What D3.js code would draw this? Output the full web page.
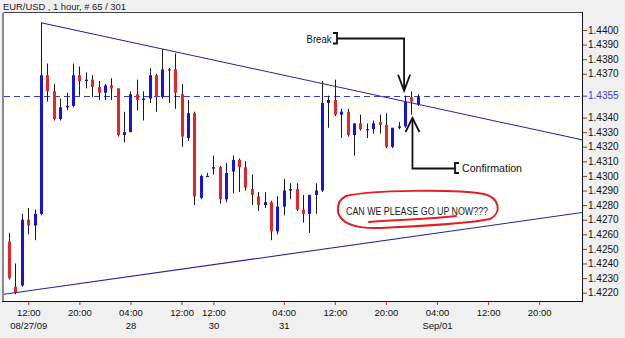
<!DOCTYPE html>
<html><head><meta charset="utf-8">
<script src="https://cdn.jsdelivr.net/npm/d3@7"></script>
<style>body{margin:0;background:#f0f0f0}svg{display:block}</style>
</head><body><svg id="c" width="625" height="338"></svg>
<script>
// ---- data (EUR/USD, 1 hour) ----
const open  = [1.4255,1.4224,1.4225,1.4270,1.4266,1.4274,1.4369,1.4358,1.4339,1.4347,1.4348,1.4369,1.4365,1.4366,1.4361,1.4357,1.4362,1.4360,1.4328,1.4330,1.4356,1.4352,1.4353,1.4369,1.4354,1.4373,1.4373,1.4356,1.4326,1.4343,1.4285,1.4300,1.4305,1.4306,1.4284,1.4303,1.4311,1.4306,1.4291,1.4286,1.4280,1.4282,1.4262,1.4279,1.4290,1.4291,1.4277,1.4274,1.4287,1.4290,1.4350,1.4352,1.4342,1.4344,1.4328,1.4336,1.4332,1.4332,1.4337,1.4335,1.4320,1.4333,1.4334,1.4354,1.4349];
const high  = [1.4261,1.4240,1.4274,1.4278,1.4277,1.4405,1.4377,1.4363,1.4353,1.4357,1.4377,1.4375,1.4371,1.4369,1.4365,1.4363,1.4367,1.4360,1.4344,1.4358,1.4366,1.4358,1.4374,1.4370,1.4387,1.4374,1.4384,1.4363,1.4352,1.4344,1.4301,1.4302,1.4314,1.4307,1.4309,1.4314,1.4312,1.4310,1.4301,1.4289,1.4289,1.4283,1.4286,1.4298,1.4295,1.4295,1.4287,1.4287,1.4295,1.4365,1.4355,1.4366,1.4346,1.4346,1.4336,1.4342,1.4336,1.4338,1.4342,1.4343,1.4333,1.4337,1.4355,1.4358,1.4356];
const low   = [1.4229,1.4219,1.4224,1.4260,1.4256,1.4273,1.4351,1.4338,1.4338,1.4345,1.4347,1.4355,1.4360,1.4354,1.4352,1.4352,1.4352,1.4327,1.4323,1.4330,1.4345,1.4338,1.4350,1.4344,1.4353,1.4350,1.4346,1.4320,1.4324,1.4280,1.4284,1.4300,1.4301,1.4281,1.4282,1.4288,1.4289,1.4290,1.4280,1.4276,1.4278,1.4256,1.4260,1.4273,1.4284,1.4276,1.4268,1.4261,1.4274,1.4289,1.4333,1.4341,1.4326,1.4327,1.4314,1.4331,1.4326,1.4329,1.4329,1.4319,1.4319,1.4332,1.4333,1.4342,1.4348];
const close = [1.4230,1.4220,1.4270,1.4266,1.4274,1.4369,1.4358,1.4339,1.4347,1.4348,1.4369,1.4365,1.4366,1.4361,1.4357,1.4362,1.4360,1.4328,1.4330,1.4356,1.4352,1.4353,1.4369,1.4354,1.4373,1.4373,1.4357,1.4327,1.4343,1.4286,1.4300,1.4300,1.4306,1.4284,1.4302,1.4311,1.4306,1.4292,1.4287,1.4280,1.4282,1.4262,1.4279,1.4290,1.4291,1.4277,1.4274,1.4287,1.4290,1.4350,1.4352,1.4342,1.4344,1.4328,1.4336,1.4332,1.4332,1.4336,1.4335,1.4320,1.4333,1.4334,1.4351,1.4351,1.4354];

const yTicks = [1.4400,1.4390,1.4380,1.4370,1.4355,1.4340,1.4330,1.4320,1.4310,1.4300,1.4290,1.4280,1.4270,1.4260,1.4250,1.4240,1.4230,1.4220];
const hLevel = 1.4355;
const xTickIdx  = [3,11,19,27,32,43,51,59,67,75,83];
const xTickTime = ["12:00","20:00","04:00","12:00","12:00","04:00","12:00","20:00","04:00","12:00","20:00"];
const xTickDate = ["08/27/09","","28","","30","31","","","Sep/01","",""];
// trendline anchors [bar index, price]
const upperTrend = [[5,1.4405],[24,1.4387]];
const lowerTrend = [[1,1.4220],[64,1.4259]];
const title = "EUR/USD , 1 hour, # 65 / 301";

// ---- layout ----
const W=625,H=338;
const P={l:4,r:582,t:13,b:301};
const x=d3.scaleLinear().domain([-0.8,89.7]).range([P.l,P.r]);
const y=d3.scaleLinear().domain([1.42143,1.441165]).range([P.b,P.t]);
const svg=d3.select("#c");
const FONT="'Liberation Sans', Arial, sans-serif";

svg.append("rect").attr("width",W).attr("height",H).attr("fill","#f0f0f0");
svg.append("rect").attr("x",P.l).attr("y",P.t).attr("width",P.r-P.l).attr("height",P.b-P.t).attr("fill","#fff");
svg.append("defs").append("clipPath").attr("id","clip").append("rect")
  .attr("x",P.l).attr("y",P.t).attr("width",P.r-P.l).attr("height",P.b-P.t);
const g=svg.append("g").attr("clip-path","url(#clip)");

// horizontal dashed level
g.append("line").attr("x1",P.l).attr("x2",P.r)
  .attr("y1",Math.round(y(hLevel))+0.5).attr("y2",Math.round(y(hLevel))+0.5)
  .attr("stroke","#3c3cc8").attr("stroke-width",1).attr("stroke-dasharray","6,4");

// candles
const data=open.map((o,i)=>({i,o,h:high[i],l:low[i],c:close[i]}));
const cx=d=>Math.round(x(d.i));
g.selectAll(".wick").data(data).join("line").attr("class","wick")
  .attr("x1",d=>cx(d)+0.5).attr("x2",d=>cx(d)+0.5)
  .attr("y1",d=>y(d.h)).attr("y2",d=>y(d.l))
  .attr("stroke","#1a1a1a").attr("stroke-width",1);
g.selectAll(".body").data(data).join("rect").attr("class","body")
  .attr("x",d=>cx(d)-1).attr("width",3)
  .attr("y",d=>y(Math.max(d.o,d.c)))
  .attr("height",d=>Math.max(1,Math.abs(y(d.o)-y(d.c))))
  .attr("fill",d=>d.c>d.o?"#1414dc":(d.c<d.o?"#e62626":"#1a1a1a"));

// trendlines
function ext(a,b,i){return a[1]+(b[1]-a[1])*(i-a[0])/(b[0]-a[0]);}
const xEnd=x.domain()[1], xStart=x.domain()[0];
g.append("line").attr("x1",x(upperTrend[0][0])).attr("y1",y(upperTrend[0][1]))
  .attr("x2",x(xEnd)).attr("y2",y(ext(upperTrend[0],upperTrend[1],xEnd)))
  .attr("stroke","#2424a0").attr("stroke-width",1.1);
g.append("line").attr("x1",x(xStart)).attr("y1",y(ext(lowerTrend[0],lowerTrend[1],xStart)))
  .attr("x2",x(xEnd)).attr("y2",y(ext(lowerTrend[0],lowerTrend[1],xEnd)))
  .attr("stroke","#2424a0").attr("stroke-width",1.1);

// frame
svg.append("line").attr("x1",P.l-0.5).attr("x2",P.r).attr("y1",P.t-0.5).attr("y2",P.t-0.5).attr("stroke","#444");
svg.append("line").attr("x1",P.l-1).attr("x2",P.l-1).attr("y1",P.t).attr("y2",P.b+1).attr("stroke","#8a8a8a").attr("stroke-width",2);
svg.append("line").attr("x1",P.r+0.5).attr("x2",P.r+0.5).attr("y1",P.t-1).attr("y2",P.b+1).attr("stroke","#111");
svg.append("line").attr("x1",P.l-2).attr("x2",P.r+1).attr("y1",P.b+0.5).attr("y2",P.b+0.5).attr("stroke","#111");

// y axis
const ya=svg.append("g").attr("transform",`translate(${P.r+1},0)`)
  .call(d3.axisRight(y).tickValues(yTicks).tickFormat(d3.format(".4f")).tickSize(4).tickPadding(1));
ya.select(".domain").remove();
ya.selectAll(".tick line").attr("stroke",d=>d===hLevel?"#3c3cc8":"#a83030");
ya.selectAll(".tick text").attr("font-family",FONT).attr("font-size","10px")
  .attr("fill",d=>d===hLevel?"#3c3cc8":"#111");

// x axis
const xa=svg.append("g").attr("transform",`translate(0,${P.b+1})`)
  .call(d3.axisBottom(x).tickValues(xTickIdx).tickFormat((d,k)=>xTickTime[k]).tickSize(3).tickPadding(4));
xa.select(".domain").remove();
xa.selectAll(".tick line").attr("stroke","#a83030");
xa.selectAll(".tick text").attr("font-family",FONT).attr("font-size","9.5px").attr("fill","#111");
xa.selectAll(".tick").append("text").attr("y",27).attr("fill","#111")
  .attr("font-family",FONT).attr("font-size","9.5px").attr("text-anchor","middle")
  .text((d,k)=>xTickDate[k]);

// title
svg.append("text").attr("x",3).attr("y",10).attr("font-family",FONT).attr("font-size","9.4px")
  .attr("fill","#1a1a1a").text(title);

// ---- annotations ----
const ann=svg.append("g").attr("fill","none").attr("stroke","#111").attr("stroke-width",1.8);
// Break arrow
const bx=x(62)-1, btip=y(1.43584);
svg.append("text").attr("x",306.5).attr("y",43).attr("font-family","'Liberation Sans Narrow', 'Liberation Sans', Arial").attr("font-size","10.5px")
  .attr("fill","#111").attr("textLength",25).attr("lengthAdjust","spacingAndGlyphs").text("Break");
ann.append("path").attr("d",`M333,33 H337 V43.5 H333 M337,38.5 H${bx} V${btip}`);
ann.append("path").attr("d",`M${bx-6},${btip-16} L${bx},${btip} L${bx+6},${btip-16}`);
// Confirmation arrow
const cxp=x(63)+1, ctip=y(1.43397);
svg.append("text").attr("x",462).attr("y",171.5).attr("font-family","'Liberation Sans Narrow', 'Liberation Sans', Arial").attr("font-size","11px")
  .attr("fill","#111").attr("textLength",60).attr("lengthAdjust","spacingAndGlyphs").text("Confirmation");
ann.append("path").attr("d",`M459,163 H455 V173 H459 M455,168.5 H${cxp} V${ctip}`);
ann.append("path").attr("d",`M${cxp-7},${ctip+14} L${cxp},${ctip} L${cxp+7},${ctip+14}`);
// red ellipse note
svg.append("text").attr("x",346).attr("y",215).attr("font-family","'Liberation Sans Narrow', 'Liberation Sans', Arial").attr("font-size","11.5px")
  .attr("fill","#1a1a1a").attr("textLength",142).attr("lengthAdjust","spacingAndGlyphs").text("CAN WE PLEASE GO UP NOW???");
const red=svg.append("g").attr("fill","none").attr("stroke","#e02020").attr("stroke-width",2).attr("stroke-linecap","round");
red.append("path").attr("d","M346,196 C372,190 455,189 484,194 C500,198 502,213 490,219 C468,224 420,226 382,228 C356,229 341,224 338,212 C337,204 340,199 346,196 Z");
red.append("path").attr("d","M369,222 C395,220 430,219 456,216");
</script></body></html>
